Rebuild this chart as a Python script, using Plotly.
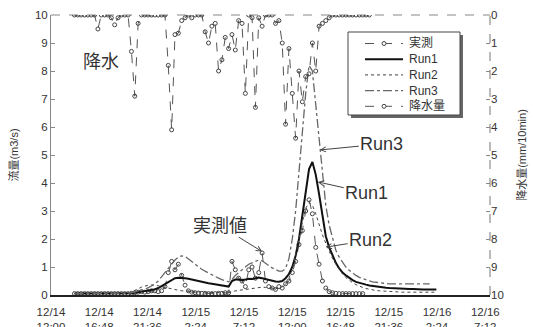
import pandas as pd
import plotly.graph_objects as go

# ---------------- data ----------------
start_time = "2012-12-14 14:20"   # first sample, 20-minute steps

observed_flow = [
    0.05, 0.05, 0.05, 0.05, 0.05, 0.05, 0.05, 0.05, 0.05, 0.05,
    0.05, 0.05, 0.05, 0.05, 0.05, 0.05, 0.05, 0.06, 0.08, 0.10,
    0.12, 0.10, 0.12, 0.15, 0.15, 0.12, 0.15, 0.30, 0.80, 1.20,
    0.90, 1.10, 0.70, 0.35, 0.15, 0.10, 0.08, 0.07, 0.06, 0.06,
    0.05, 0.05, 0.05, 0.06, 0.06, 0.08, 0.08, 1.20, 0.90, 0.60,
    0.50, 0.30, 0.90, 1.00, 0.60, 0.80, 1.50, 0.50, 0.30, 0.25,
    0.20, 0.30, 0.25, 0.40, 0.50, 0.80, 1.20, 1.80, 2.30, 3.00,
    3.40, 2.90, 1.70, 1.10, 0.50, 0.25, 0.12, 0.08, 0.06, 0.05,
    0.05, 0.05, 0.05, 0.05, 0.05, 0.05, 0.05,
]

run1_flow = [
    0.05, 0.05, 0.05, 0.05, 0.05, 0.05, 0.05, 0.05, 0.05, 0.05,
    0.05, 0.05, 0.05, 0.05, 0.05, 0.05, 0.05, 0.06, 0.08, 0.10,
    0.12, 0.14, 0.15, 0.17, 0.20, 0.25, 0.32, 0.40, 0.48, 0.55,
    0.60, 0.62, 0.62, 0.60, 0.58, 0.55, 0.52, 0.50, 0.47, 0.45,
    0.42, 0.40, 0.38, 0.36, 0.34, 0.32, 0.30, 0.50, 0.55, 0.55,
    0.53, 0.55, 0.58, 0.57, 0.60, 0.62, 0.60, 0.57, 0.53, 0.50,
    0.48, 0.47, 0.50, 0.60, 0.75, 1.00, 1.40, 2.00, 2.80, 3.70,
    4.50, 4.75, 4.30, 3.60, 2.80, 2.10, 1.70, 1.40, 1.15, 0.95,
    0.80, 0.70, 0.60, 0.53, 0.47, 0.43, 0.40, 0.37, 0.34, 0.32,
    0.30, 0.28, 0.27, 0.26, 0.25, 0.24, 0.23, 0.22, 0.22, 0.21,
    0.21, 0.21, 0.20, 0.20, 0.20, 0.20, 0.20, 0.20, 0.20,
]

run2_flow = [
    0.05, 0.05, 0.05, 0.05, 0.05, 0.05, 0.05, 0.05, 0.05, 0.05,
    0.05, 0.05, 0.05, 0.05, 0.05, 0.05, 0.07, 0.10, 0.15, 0.22,
    0.28, 0.32, 0.35, 0.36, 0.35, 0.33, 0.30, 0.27, 0.24, 0.21,
    0.19, 0.17, 0.15, 0.14, 0.13, 0.12, 0.11, 0.10, 0.10, 0.10,
    0.09, 0.09, 0.09, 0.08, 0.08, 0.08, 0.08, 0.12, 0.15, 0.17,
    0.18, 0.20, 0.22, 0.24, 0.26, 0.28, 0.28, 0.27, 0.25, 0.24,
    0.23, 0.24, 0.28, 0.40, 0.60, 0.90, 1.40, 2.00, 2.60, 3.10,
    3.30, 3.20, 2.90, 2.50, 2.15, 1.85, 1.55, 1.30, 1.10, 0.90,
    0.75, 0.62, 0.52, 0.44, 0.37, 0.31, 0.27, 0.23, 0.20, 0.18,
    0.16, 0.15, 0.14, 0.13, 0.12, 0.12, 0.11, 0.11, 0.10, 0.10,
    0.10, 0.10, 0.10, 0.10, 0.10, 0.10, 0.10, 0.10, 0.10,
]

run3_flow = [
    0.05, 0.05, 0.05, 0.05, 0.05, 0.05, 0.05, 0.05, 0.05, 0.05,
    0.05, 0.05, 0.05, 0.05, 0.05, 0.05, 0.06, 0.08, 0.10, 0.13,
    0.16, 0.20, 0.25, 0.32, 0.40, 0.50, 0.65, 0.80, 0.95, 1.10,
    1.25, 1.35, 1.40, 1.38, 1.30, 1.20, 1.10, 1.00, 0.92, 0.85,
    0.78, 0.72, 0.66, 0.60, 0.55, 0.50, 0.47, 0.55, 0.70, 0.80,
    0.90, 1.00, 1.10, 1.15, 1.20, 1.25, 1.22, 1.15, 1.05, 0.97,
    0.90, 0.85, 0.85, 0.95, 1.30, 2.00, 3.00, 4.30, 5.80, 7.20,
    8.20, 8.00, 6.80, 5.50, 4.20, 3.20, 2.50, 2.00, 1.60, 1.35,
    1.15, 1.00, 0.88, 0.78, 0.70, 0.63, 0.58, 0.54, 0.50, 0.47,
    0.45, 0.43, 0.42, 0.41, 0.40, 0.40, 0.40, 0.40, 0.40, 0.40,
    0.40, 0.40, 0.40, 0.40, 0.40, 0.40, 0.40,
]

rainfall = [
    0.0, 0.0, 0.0, 0.0, 0.0, 0.0, 0.0, 0.5, 0.0, 0.0,
    0.0, 0.1, 0.35, 0.1, 0.0, 0.0, 0.0, 1.3, 2.9, 0.3,
    0.0, 0.0, 0.0, 0.0, 0.0, 0.0, 0.0, 0.0, 1.8, 4.1,
    0.7, 0.65, 0.2, 0.1, 0.0, 0.1, 0.0, 0.0, 0.0, 0.6,
    1.0, 0.4, 0.3, 2.0, 1.6, 0.8, 1.2, 0.7, 1.25, 0.2,
    0.3, 2.8, 0.0, 0.1, 3.3, 0.1, 0.4, 0.0, 0.0, 0.0,
    0.3, 0.2, 1.0, 3.9, 1.2, 2.8, 4.4, 2.0, 3.1, 2.2,
    2.1, 1.0, 2.0, 0.4, 0.3, 0.2, 0.1, 0.0, 0.0, 0.0,
    0.0, 0.0, 0.0, 0.0, 0.0, 0.0, 0.0, 0.0, 0.0,
]

tick_times = [
    "2012-12-14 12:00", "2012-12-14 16:48", "2012-12-14 21:36",
    "2012-12-15 02:24", "2012-12-15 07:12", "2012-12-15 12:00",
    "2012-12-15 16:48", "2012-12-15 21:36", "2012-12-16 02:24",
    "2012-12-16 07:12",
]
tick_labels = [
    "12/14<br>12:00", "12/14<br>16:48", "12/14<br>21:36",
    "12/15<br>2:24", "12/15<br>7:12", "12/15<br>12:00",
    "12/15<br>16:48", "12/15<br>21:36", "12/16<br>2:24",
    "12/16<br>7:12",
]
x_range = ["2012-12-14 12:00", "2012-12-16 07:40"]

legend_names = ["実測", "Run1", "Run2", "Run3", "降水量"]

def times(n):
    return pd.date_range(start=start_time, periods=n, freq="20min")

# ---------------- figure ----------------
FONT = "Liberation Sans, Arial, Noto Sans CJK JP, sans-serif"
W, H = 533, 327
ML, MR, MT, MB = 51, 43, 15, 32
PW, PH = W - ML - MR, H - MT - MB

def px(xpix):   # pixel -> paper x
    return (xpix - ML) / PW

def py(ypix):   # pixel -> paper y
    return (H - MB - ypix) / PH

styles = [
    dict(color="#555", width=1, dash="dash"),
    dict(color="#111", width=2, dash="solid"),
    dict(color="#444", width=1, dash="dot"),
    dict(color="#666", width=1.3, dash="dashdot"),
    dict(color="#555", width=1, dash="dash"),
]
marker_style = dict(symbol="circle-open", size=4, color="#444", line=dict(width=1))

series = [observed_flow, run1_flow, run2_flow, run3_flow, rainfall]
fig = go.Figure()
for k, (name, vals) in enumerate(zip(legend_names, series)):
    has_marker = k in (0, 4)
    fig.add_trace(go.Scatter(
        x=times(len(vals)), y=vals, name=name,
        yaxis="y2" if k == 4 else "y",
        mode="lines+markers" if has_marker else "lines",
        line=styles[k],
        marker=marker_style if has_marker else None,
        showlegend=False,
    ))

ann_font = dict(family=FONT, size=18, color="#333")
arrow = dict(showarrow=True, arrowhead=5, arrowsize=1, arrowwidth=1,
             arrowcolor="#444", font=ann_font)
annotations = [
    dict(x=px(101), y=py(62), xref="paper", yref="paper", text="降水",
         xanchor="center", yanchor="middle", showarrow=False, font=ann_font),
    dict(x="2012-12-15 09:00", y=1.55, text="実測値", ax=-42, ay=-26, **arrow),
    dict(x="2012-12-15 14:44", y=5.18, text="Run3", ax=62, ay=-6, **arrow),
    dict(x="2012-12-15 14:32", y=4.04, text="Run1", ax=49, ay=11, **arrow),
    dict(x="2012-12-15 15:19", y=1.71, text="Run2", ax=45, ay=-7, **arrow),
]

shapes = [
    # dashed top and right frame
    dict(type="line", xref="paper", yref="paper", x0=0, x1=1, y0=1, y1=1,
         line=dict(color="#888", width=1, dash="dash"), layer="below"),
    dict(type="line", xref="paper", yref="paper", x0=1, x1=1, y0=0, y1=1,
         line=dict(color="#777", width=1, dash="dash"), layer="below"),
    # legend shadow and box
    dict(type="rect", xref="paper", yref="paper",
         x0=px(351), x1=px(463), y0=py(118), y1=py(35),
         fillcolor="#666", line=dict(width=0), layer="above"),
    dict(type="rect", xref="paper", yref="paper",
         x0=px(348), x1=px(460), y0=py(115), y1=py(32),
         fillcolor="white", line=dict(color="#444", width=1), layer="above"),
]

row_y = [43.5, 59.2, 74.9, 90.6, 106.3]
for k, name in enumerate(legend_names):
    yy = py(row_y[k])
    shapes.append(dict(type="line", xref="paper", yref="paper",
                       x0=px(365), x1=px(403), y0=yy, y1=yy,
                       line=styles[k], layer="above"))
    if k in (0, 4):
        shapes.append(dict(type="circle", xref="paper", yref="paper",
                           xsizemode="pixel", ysizemode="pixel",
                           xanchor=px(384), yanchor=yy,
                           x0=-2, x1=2, y0=-2, y1=2,
                           fillcolor="white", line=dict(color="#444", width=1),
                           layer="above"))
    annotations.append(dict(x=px(407), y=yy, xref="paper", yref="paper",
                            text=name, showarrow=False, xanchor="left",
                            yanchor="middle",
                            font=dict(family=FONT, size=12, color="#333")))

fig.update_layout(
    width=W, height=H,
    margin=dict(l=ML, r=MR, t=MT, b=MB, autoexpand=False),
    paper_bgcolor="white", plot_bgcolor="white",
    font=dict(family=FONT, size=12, color="#333"),
    showlegend=False,
    xaxis=dict(
        type="date", range=x_range, automargin=False,
        tickmode="array", tickvals=tick_times, ticktext=tick_labels,
        showline=True, linecolor="#222", linewidth=1.5,
        ticks="", showgrid=False, zeroline=False, ticklabelstandoff=5,
        tickfont=dict(family=FONT, size=11.5, color="#333"),
    ),
    yaxis=dict(
        range=[0, 10], dtick=1, showline=True, linecolor="#888", linewidth=1,
        ticks="inside", ticklen=4, tickcolor="#888", automargin=False,
        showgrid=False, zeroline=False,
        tickfont=dict(family=FONT, size=11.5, color="#333"),
        title=dict(text="流量(m3/s)", font=dict(family=FONT, size=11, color="#333"),
                   standoff=14),
    ),
    yaxis2=dict(
        overlaying="y", side="right", range=[10, 0], dtick=1, automargin=False,
        showline=False,
        ticks="inside", ticklen=4, tickcolor="#888",
        showgrid=False, zeroline=False,
        tickfont=dict(family=FONT, size=11.5, color="#333"),
        title=dict(text="降水量(mm/10min)", font=dict(family=FONT, size=11, color="#333"),
                   standoff=15),
    ),
    annotations=annotations,
    shapes=shapes,
    hovermode=False,
)

fig.write_html(
    "out.html",
    config={"displayModeBar": False},
    post_script="document.body.style.margin='0';document.body.style.overflow='hidden';",
)
